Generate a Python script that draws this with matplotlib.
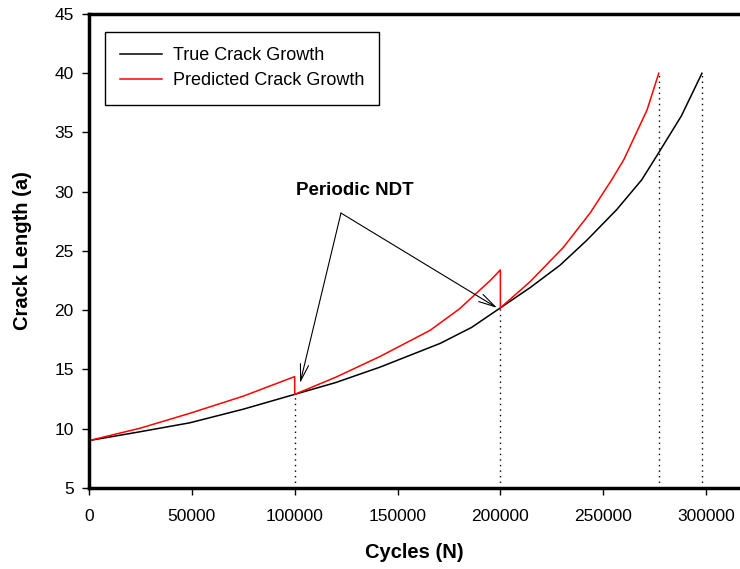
import matplotlib
matplotlib.use('Agg')
from matplotlib import pyplot as plt

#########################################################
### Data

true_n = [0, 25000, 49000, 75000, 100000, 120000, 141500, 170700, 186000,
          200000, 214400, 229000, 242000, 256600, 268700, 277000, 288000, 298000]
true_a = [9.0, 9.75, 10.5, 11.65, 12.9, 13.9, 15.2, 17.2, 18.55,
          20.2, 21.9, 23.8, 25.9, 28.5, 31.0, 33.3, 36.4, 40.0]

# predicted growth, restarted at each inspection
pred1_n = [0, 25000, 49000, 75000, 100000]
pred1_a = [9.0, 10.05, 11.3, 12.75, 14.4]
pred2_n = [100000, 120000, 141500, 165800, 180000, 195000, 200000]
pred2_a = [12.9, 14.35, 16.1, 18.3, 20.1, 22.5, 23.4]
pred3_n = [200000, 214400, 230600, 243600, 254100, 260000, 271300, 277000]
pred3_a = [20.2, 22.4, 25.3, 28.2, 31.0, 32.7, 36.9, 40.0]

# inspection / failure markers
drop_n = [100000, 200000, 277000, 298000]
drop_a = [12.9, 20.2, 40.0, 40.0]

x_ticks = [0, 50000, 100000, 150000, 200000, 250000, 300000]
y_ticks = [5, 10, 15, 20, 25, 30, 35, 40, 45]

#########################################################
### Plot

plt.rcParams['font.family'] = ['Liberation Sans', 'DejaVu Sans']

fig = plt.figure(figsize=(7.4, 5.69), dpi=100)
ax = fig.add_axes([0.1203, 0.1424, 0.8797, 0.833])

ax.plot(true_n, true_a, color='black', lw=1.1, label='True Crack Growth')
pred_n = pred1_n + pred2_n + pred3_n
pred_a = pred1_a + pred2_a + pred3_a
ax.plot(pred_n, pred_a, color='red', lw=1.1, label='Predicted Crack Growth')

for n, a in zip(drop_n, drop_a):
    ax.plot([n, n], [5, a], color='black', lw=1.0, ls=(0, (1, 3)))

# annotation
apex = (122500, 28.2)
ax.text(100500, 30.1, 'Periodic NDT', fontsize=13.5, fontweight='bold',
        va='center', ha='left')
for tgt in [(102600, 13.85), (198400, 20.2)]:
    ax.annotate('', xy=tgt, xytext=apex,
                arrowprops=dict(arrowstyle='->,head_length=1.2,head_width=0.3',
                                color='black', lw=0.8, shrinkA=0, shrinkB=0))

ax.set_xlim(0, 316500)
ax.set_ylim(5, 45)
ax.set_xticks(x_ticks)
ax.set_yticks(y_ticks)
ax.tick_params(labelsize=12.5, direction='out', length=5, width=1)
ax.tick_params(axis='x', pad=10)
ax.tick_params(axis='y', pad=6)

ax.spines['right'].set_visible(False)
for s in ['left', 'top', 'bottom']:
    ax.spines[s].set_linewidth(2.5)

ax.set_xlabel('Cycles (N)', fontsize=14.5, fontweight='bold', labelpad=14)
ax.set_ylabel('Crack Length (a)', fontsize=14.5, fontweight='bold', labelpad=16)

leg = ax.legend(loc='upper left', bbox_to_anchor=(0.0246, 0.962), fontsize=13,
                fancybox=False, edgecolor='black', framealpha=1,
                handlelength=2.3, handletextpad=0.6, borderpad=0.85,
                labelspacing=0.45, borderaxespad=0)
leg.get_frame().set_linewidth(1.0)

fig.savefig('out.png', dpi=100)
